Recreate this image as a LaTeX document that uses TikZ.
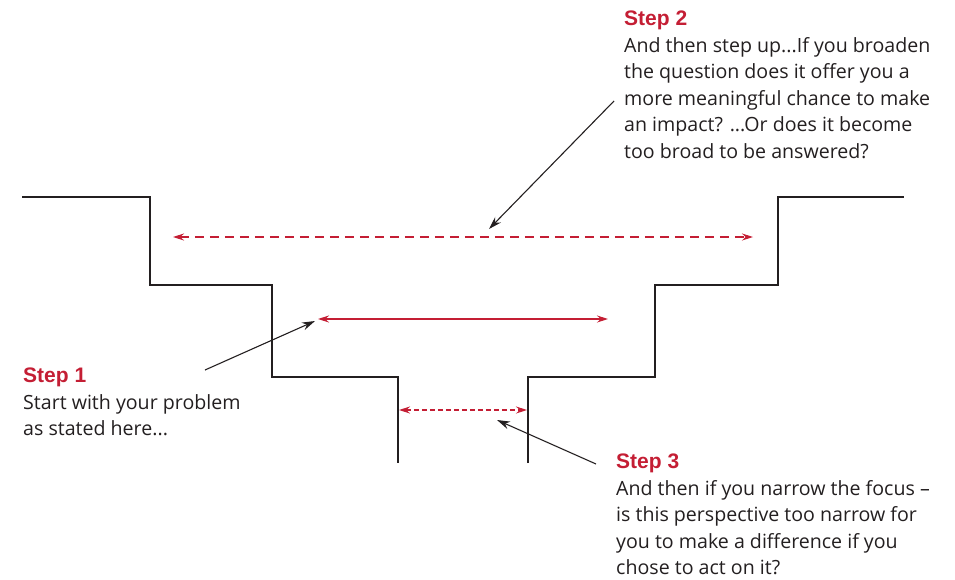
\documentclass[tikz,border=0pt]{standalone}
\usepackage{fontspec}
\setmainfont{Open Sans}
\newfontfamily\headfont{Liberation Sans}
\usetikzlibrary{arrows.meta}
\definecolor{stepred}{RGB}{196,30,52}
\definecolor{ink}{RGB}{35,31,32}
\tikzset{
  stair/.style={draw=ink, line width=1.8pt, line join=miter},
  redarrow/.style={draw=stepred, line width=1.1pt, {Stealth[length=11pt,width=7pt]}-{Stealth[length=11pt,width=7pt]}},
  reddash/.style={redarrow, dash pattern=on 9pt off 6pt},
  reddot/.style={redarrow, dash pattern=on 5pt off 3pt},
  pointer/.style={draw=ink, line width=1.1pt, -{Stealth[length=13pt,width=8pt]}},
  label/.style={anchor=north west, inner sep=0pt, align=left, text=ink, font=\fontsize{19.6}{26.5}\selectfont},
}
\newcommand{\stephead}[1]{{\headfont\bfseries\color{stepred}\fontsize{21}{26.5}\selectfont #1}}
\begin{document}
\begin{tikzpicture}[x=1pt,y=-1pt]
\useasboundingbox (0,0) rectangle (955,579);
% staircase
\draw[stair] (22,197) -- (150,197) -- (150,285) -- (272,285) -- (272,377) -- (398,377) -- (398,463);
\draw[stair] (528,463) -- (528,377) -- (655,377) -- (655,285) -- (778,285) -- (778,197) -- (904,197);
% red measures
\coordinate (w1) at (173,237); \coordinate (w2) at (753,237);
\coordinate (m1) at (318,319); \coordinate (m2) at (608,319);
\coordinate (n1) at (399,410); \coordinate (n2) at (527,410);
\draw[reddash] (w1) -- (w2);
\draw[redarrow] (m1) -- (m2);
\draw[reddot] (n1) -- (n2);
% texts
\node[label] (s2) at (624,11) {\stephead{Step 2}\\And then step up...If you broaden\\the question does it offer you a\\more meaningful chance to make\\an impact? ...Or does it become\\too broad to be answered?};
\node[label] (s1) at (23,368) {\stephead{Step 1}\\Start with your problem\\as stated here...};
\node[label] (s3) at (616,454) {\stephead{Step 3}\\And then if you narrow the focus –\\is this perspective too narrow for\\you to make a difference if you\\chose to act on it?};
% pointers
\coordinate (p2s) at (614,101); \coordinate (p2e) at (489,229);
\coordinate (p1s) at (205,370); \coordinate (p1e) at (315,321);
\coordinate (p3s) at (596,464); \coordinate (p3e) at (497,420);
\draw[pointer] (p2s) -- (p2e);
\draw[pointer] (p1s) -- (p1e);
\draw[pointer] (p3s) -- (p3e);
\end{tikzpicture}
\end{document}
